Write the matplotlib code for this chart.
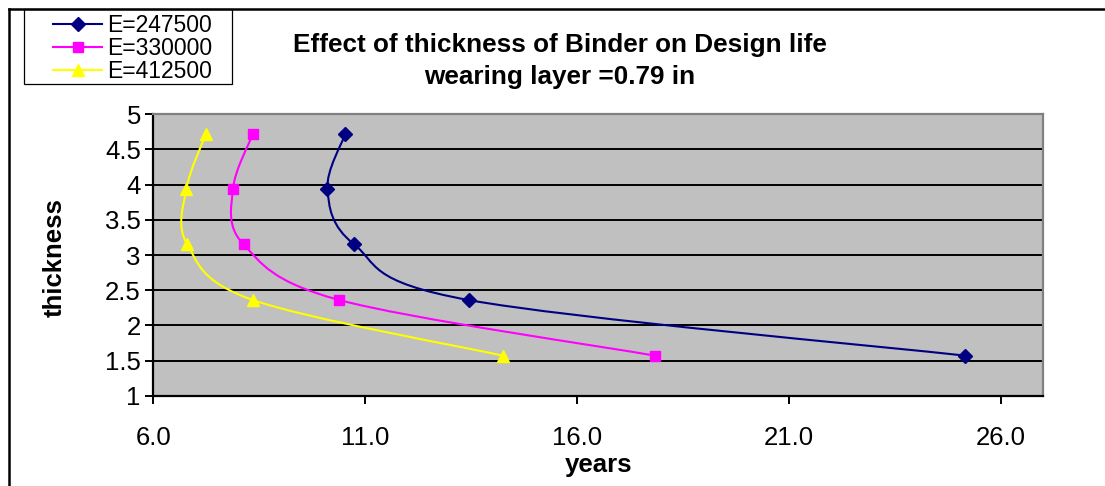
import matplotlib
matplotlib.use('Agg')
import matplotlib.pyplot as plt
from matplotlib.path import Path
from matplotlib.patches import PathPatch, Rectangle
from matplotlib.lines import Line2D
import numpy as np

plt.rcParams['font.family'] = ['Liberation Sans', 'DejaVu Sans']

# data
thickness = [1.57, 2.36, 3.15, 3.94, 4.72]
years_247500 = [25.15, 13.44, 10.74, 10.11, 10.53]
years_330000 = [17.83, 10.39, 8.13, 7.88, 8.35]
years_412500 = [14.24, 8.35, 6.80, 6.78, 7.24]
labels = ['E=247500', 'E=330000', 'E=412500']
x_ticks = [6.0, 11.0, 16.0, 21.0, 26.0]
y_ticks = [1, 1.5, 2, 2.5, 3, 3.5, 4, 4.5, 5]

W, H = 1105, 486


def smooth_path(xs, ys):
    # excel-like smoothed line: catmull-rom turned into cubic bezier pieces
    pts = [np.array(p, dtype=float) for p in zip(xs, ys)]
    verts = [pts[0]]
    codes = [Path.MOVETO]
    n = len(pts)
    for i in range(n - 1):
        p0 = pts[i - 1] if i > 0 else pts[i]
        p1 = pts[i]
        p2 = pts[i + 1]
        p3 = pts[i + 2] if i + 2 < n else pts[i + 1]
        verts += [p1 + (p2 - p0) / 6, p2 - (p3 - p1) / 6, p2]
        codes += [Path.CURVE4] * 3
    return Path(verts, codes)


fig = plt.figure(figsize=(W / 100, H / 100), dpi=100)
ax = fig.add_axes([153.3 / W, 1 - 395.7 / H, 890 / W, 281.4 / H])
ax.set_facecolor('#C0C0C0')

series = [
    (years_247500, '#000080', 'D', 7.5),
    (years_330000, '#FF00FF', 's', 7.2),
    (years_412500, '#FFFF00', '^', 8.5),
]
handles = []
for (ys, col, mk, ms), lab in zip(series, labels):
    ax.add_patch(PathPatch(smooth_path(ys, thickness), fill=False,
                           edgecolor=col, lw=1.5, zorder=3))
    ax.plot(ys, thickness, linestyle='none', marker=mk, ms=ms,
            color=col, zorder=4, clip_on=False)
    handles.append(Line2D([], [], color=col, lw=1.5, marker=mk, ms=ms))

ax.set_xlim(6, 27)
ax.set_ylim(1, 5)
ax.set_xticks(x_ticks)
ax.set_xticklabels(['%.1f' % v for v in x_ticks])
ax.set_yticks(y_ticks)
ax.set_yticklabels(['%g' % v for v in y_ticks])
ax.yaxis.grid(True, color='black', lw=1.4)
ax.set_axisbelow(True)

ax.tick_params(axis='x', direction='out', length=6, width=1.4,
               labelsize=18.5, pad=16)
ax.tick_params(axis='y', direction='out', length=6, width=1.4,
               labelsize=18.5, pad=3)
for s in ['left', 'bottom']:
    ax.spines[s].set_color('black')
    ax.spines[s].set_linewidth(1.6)
for s in ['top', 'right']:
    ax.spines[s].set_color('#808080')
    ax.spines[s].set_linewidth(1.6)

ax.set_xlabel('years', fontsize=18.5, fontweight='bold')
ax.set_ylabel('thickness', fontsize=18.5, fontweight='bold')
ax.xaxis.set_label_coords(0.5, -0.205)
ax.yaxis.set_label_coords(-0.097, 0.49)

fig.text(560 / W, 1 - 61 / H,
         'Effect of thickness of Binder on Design life\nwearing layer =0.79 in',
         ha='center', va='center', fontsize=18.8, fontweight='bold',
         linespacing=1.4)

# legend
fig.legend(handles, labels, loc='upper left',
           bbox_to_anchor=(53 / W, 1 - 14 / H), frameon=False,
           fontsize=16.5, borderpad=0, borderaxespad=0, labelspacing=0.0,
           handlelength=2.15, handletextpad=0.2)
fig.add_artist(Rectangle((23.5 / W, 1 - 84 / H), 208.5 / W, 75 / H,
                         transform=fig.transFigure, fill=False,
                         edgecolor='black', lw=0.9))

# outer chart frame (only top and left are visible)
fig.add_artist(Line2D([8.5 / W, 1], [1 - 9 / H, 1 - 9 / H],
                      transform=fig.transFigure, color='black', lw=1.8))
fig.add_artist(Line2D([8.5 / W, 8.5 / W], [0, 1 - 9 / H],
                      transform=fig.transFigure, color='black', lw=1.8))

fig.savefig('out.png', dpi=100)
